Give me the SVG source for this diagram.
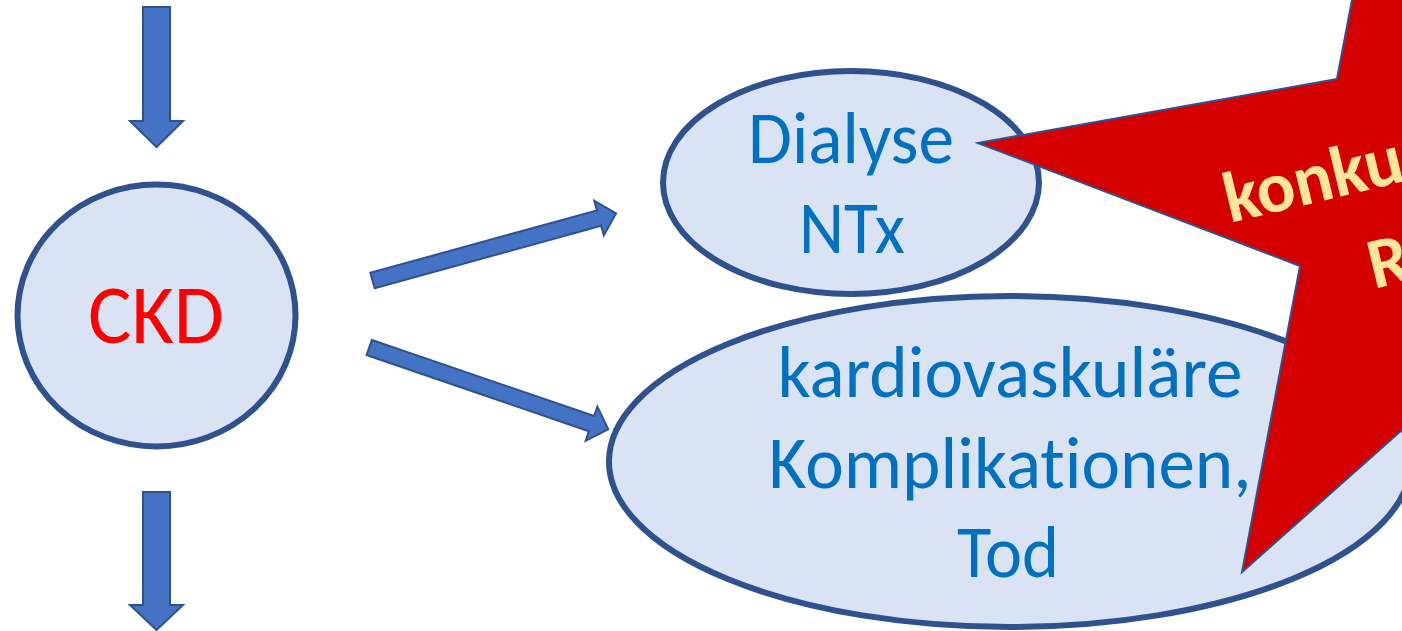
<svg xmlns="http://www.w3.org/2000/svg" width="1402" height="631" viewBox="0 0 1402 631">
<style>
.node{fill:#DAE3F3;stroke:#2F528F;stroke-width:6}
.arr{fill:#4472C4;stroke:#2F528F;stroke-width:2;stroke-linejoin:miter}
.t{font-family:Carlito,Calibri,Lato,"Open Sans",sans-serif;font-size:73px;text-anchor:middle;fill:#0070C0;font-variant-ligatures:none}
.ckd{fill:#FF0000;font-size:85px}
.star{fill:#D40000;stroke:#2F528F;stroke-width:2;stroke-linejoin:miter}
.st{font-family:Carlito,Calibri,Lato,"Open Sans",sans-serif;font-size:72px;font-weight:bold;fill:#FFE699}
</style>
<rect width="1402" height="631" fill="#FFFFFF"/>
<g id="connectors">
<polygon class="arr" points="143,7 170,7 170,121 183,121 156.5,147 130,121 143,121"/>
<polygon class="arr" points="143,492 170,492 170,605 183,605 156.5,630 130,605 143,605"/>
<polygon class="arr" transform="translate(372.5,280.5) rotate(-15.4)" points="0,-8 235,-8 235,-18 252.6,0 235,18 235,8 0,8"/>
<polygon class="arr" transform="translate(369.2,347.5) rotate(18.9)" points="0,-8 235,-8 235,-18 252.7,0 235,18 235,8 0,8"/>
</g>
<g id="ckd">
<ellipse class="node" cx="156.5" cy="315.5" rx="139" ry="131" stroke-width="5"/>
<text class="t ckd" x="156" y="343" textLength="136" lengthAdjust="spacingAndGlyphs">CKD</text>
</g>
<g id="kardio">
<ellipse class="node" cx="1010" cy="461.5" rx="401" ry="165.5"/>
<text class="t" x="1010" y="397" textLength="465" lengthAdjust="spacingAndGlyphs">kardiovaskuläre</text>
<text class="t" x="1010" y="488" textLength="483" lengthAdjust="spacingAndGlyphs">Komplikationen,</text>
<text class="t" x="1008" y="577" textLength="102" lengthAdjust="spacingAndGlyphs">Tod</text>
</g>
<g id="dialyse">
<ellipse class="node" cx="851" cy="182.5" rx="188" ry="111.5"/>
<text class="t" x="851" y="163" textLength="206" lengthAdjust="spacingAndGlyphs">Dialyse</text>
<text class="t" x="852" y="253" textLength="106" lengthAdjust="spacingAndGlyphs">NTx</text>
</g>
<g id="star">
<polygon class="star" points="978,143 1337,79 1371,-100 1600,-100 1600,200 1500,343 1242,572 1300,266"/>
<text class="st" transform="translate(1230,223) rotate(-13.5)" x="0" y="0" textLength="182" lengthAdjust="spacingAndGlyphs">konku</text>
<text class="st" transform="translate(1374,289) rotate(-13.5)" x="0" y="0">R</text>
</g>
</svg>
